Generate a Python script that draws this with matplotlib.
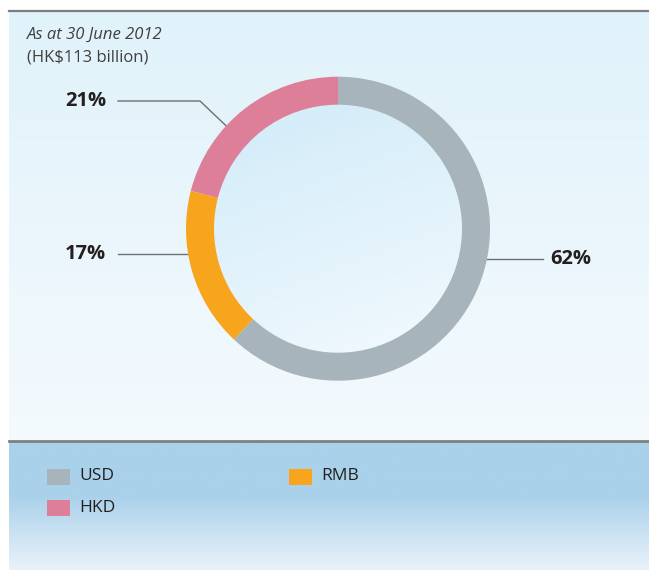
import numpy as np
import matplotlib
matplotlib.use("Agg")
import matplotlib.pyplot as plt
from matplotlib.colors import LinearSegmentedColormap
from matplotlib.patches import Rectangle

plt.rcParams["font.family"] = ["Open Sans", "DejaVu Sans"]

# data
currencies = ["USD", "RMB", "HKD"]
shares = [62, 17, 21]
colors = ["#a7b4bc", "#f7a51d", "#de7f99"]
label_texts = ["62%", "17%", "21%"]
legend_order = ["USD", "RMB", "HKD"]

W, H = 649, 570
fig = plt.figure(figsize=(W / 100, H / 100), dpi=100)
ax = fig.add_axes([0, 0, 1, 1])
ax.set_xlim(0, W)
ax.set_ylim(0, H)
ax.axis("off")

def py(y):  # pixel row -> axis y
    return H - y

# panel background
panel = LinearSegmentedColormap.from_list("panel", ["#e0f2fa", "#f4fafe"])
grad = np.linspace(0, 1, 256).reshape(-1, 1)
ax.imshow(grad, cmap=panel, extent=[9, W, py(441), py(11)], aspect="auto", zorder=0)

# legend band
band = LinearSegmentedColormap.from_list(
    "band", [(0, "#a9d1ea"), (0.42, "#a9d1ea"), (1, "#e9f2fa")])
ax.imshow(grad, cmap=band, extent=[9, W, py(570), py(441)], aspect="auto", zorder=0)

ax.plot([9, W], [py(11), py(11)], color="#7f7f7f", lw=1.6, zorder=2)
ax.plot([9, W], [py(441), py(441)], color="#7f7f7f", lw=2.0, zorder=2)

# donut
cx, cy, R, w = 338, py(228.7), 152, 28
inner = LinearSegmentedColormap.from_list("inner", ["#cdeaf8", "#f2f9fe"])
n = 300
xx, yy = np.meshgrid(np.linspace(0, 1, n), np.linspace(0, 1, n))
g = np.clip(0.3 * xx + 0.8 * yy, 0, 1)
im = ax.imshow(g, cmap=inner, extent=[cx - R, cx + R, cy - R, cy + R],
               origin="upper", aspect="auto", zorder=1)
circ = plt.Circle((cx, cy), R - w + 1, transform=ax.transData)
im.set_clip_path(circ)

wedges, _ = ax.pie(shares, colors=colors, startangle=90, counterclock=False,
                   center=(cx, cy), radius=R, frame=True,
                   wedgeprops=dict(width=w, linewidth=0), normalize=True)
for wd in wedges:
    wd.set_zorder(3)
ax.set_xlim(0, W)
ax.set_ylim(0, H)
ax.set_aspect("auto")
ax.axis("off")

# leader lines and labels
txt = dict(fontsize=14.5, fontweight="bold", color="#231f20", va="center")

# USD (right)
yl = py(259.3)
xe = cx + np.sqrt(R ** 2 - (yl - cy) ** 2)
ax.plot([xe, 543], [yl, yl], color="#6d6e70", lw=1, zorder=2)
ax.text(550, yl, label_texts[0], ha="left", **txt)

# RMB (left)
yl = py(253.7)
xe = cx - np.sqrt(R ** 2 - (yl - cy) ** 2)
ax.plot([118, xe], [yl, yl], color="#6d6e70", lw=1, zorder=2)
ax.text(106, yl, label_texts[1], ha="right", **txt)

# HKD (upper left, elbow)
yl = py(101)
ang = np.deg2rad(137.4)
ax.plot([118, 200, cx + R * np.cos(ang), ], [yl, yl, cy + R * np.sin(ang)],
        color="#6d6e70", lw=1, zorder=2)
ax.text(106, yl + 0.5, label_texts[2], ha="right", **txt)

# titles
ax.text(27, py(35), "As at 30 June 2012", fontsize=12, style="italic",
        color="#404040", va="center", ha="left")
ax.text(27, py(57), "(HK$113 billion)", fontsize=12,
        color="#404040", va="center", ha="left")

# legend
pos = {"USD": (47, 476.5), "RMB": (289, 476.5), "HKD": (47, 508)}
for name in legend_order:
    x0, yc = pos[name]
    c = colors[currencies.index(name)]
    ax.add_patch(Rectangle((x0, py(yc) - 8), 23, 16, facecolor=c,
                           edgecolor="none", zorder=3))
    ax.text(x0 + 32, py(yc), name, fontsize=12.5, color="#231f20",
            va="center", ha="left")

fig.savefig("out.png", dpi=100)
